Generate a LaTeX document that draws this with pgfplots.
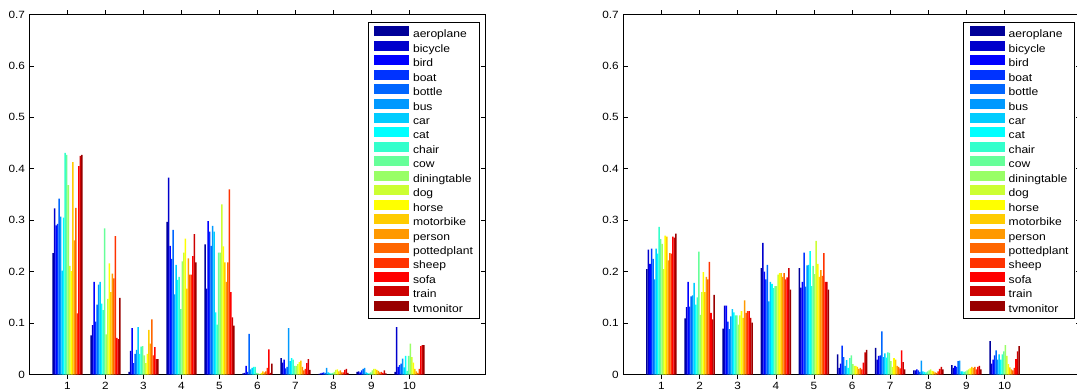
\documentclass[border=0pt]{standalone}
\usepackage{pgfplots}
\pgfplotsset{compat=1.18}
\usepackage{pgfplotstable}
\usepackage{fontspec}
\setmainfont{Liberation Sans}[FakeStretch=1.12]

\definecolor{j1}{rgb}{0,0,0.6}
\definecolor{j2}{rgb}{0,0,0.8}
\definecolor{j3}{rgb}{0,0,1}
\definecolor{j4}{rgb}{0,0.2,1}
\definecolor{j5}{rgb}{0,0.4,1}
\definecolor{j6}{rgb}{0,0.6,1}
\definecolor{j7}{rgb}{0,0.8,1}
\definecolor{j8}{rgb}{0,1,1}
\definecolor{j9}{rgb}{0.2,1,0.8}
\definecolor{j10}{rgb}{0.4,1,0.6}
\definecolor{j11}{rgb}{0.6,1,0.4}
\definecolor{j12}{rgb}{0.8,1,0.2}
\definecolor{j13}{rgb}{1,1,0}
\definecolor{j14}{rgb}{1,0.8,0}
\definecolor{j15}{rgb}{1,0.6,0}
\definecolor{j16}{rgb}{1,0.4,0}
\definecolor{j17}{rgb}{1,0.2,0}
\definecolor{j18}{rgb}{1,0,0}
\definecolor{j19}{rgb}{0.8,0,0}
\definecolor{j20}{rgb}{0.6,0,0}

\pgfplotstableread{
g c1 c2 c3 c4 c5 c6 c7 c8 c9 c10 c11 c12 c13 c14 c15 c16 c17 c18 c19 c20
1 0.236 0.323 0.290 0.293 0.342 0.307 0.202 0.305 0.431 0.427 0.368 0.211 0.201 0.413 0.261 0.324 0.119 0.405 0.425 0.427
2 0.076 0.096 0.180 0.103 0.136 0.175 0.180 0.138 0.125 0.284 0.078 0.147 0.216 0.160 0.196 0.187 0.269 0.071 0.069 0.149
3 0.005 0.046 0.090 0.022 0.040 0.048 0.092 0.040 0.054 0.055 0.037 0.022 0.040 0.087 0.060 0.107 0.037 0.053 0.030 0.030
4 0.297 0.383 0.250 0.225 0.281 0.156 0.213 0.184 0.190 0.127 0.220 0.237 0.264 0.167 0.226 0.194 0.194 0.230 0.273 0.218
5 0.253 0.167 0.298 0.278 0.250 0.289 0.278 0.121 0.097 0.237 0.237 0.331 0.249 0.218 0.180 0.218 0.360 0.160 0.111 0.095
6 0.002 0.003 0.017 0.005 0.079 0.010 0.013 0.015 0.015 0.003 0.002 0.001 0.003 0.006 0.004 0.006 0.013 0.049 0.003 0.021
7 0.032 0.023 0.029 0.012 0.015 0.090 0.026 0.032 0.029 0.017 0.017 0.020 0.024 0.027 0.015 0.008 0.011 0.022 0.030 0.009
8 0.001 0.002 0.003 0.004 0.003 0.013 0.004 0.003 0.002 0.003 0.005 0.009 0.010 0.006 0.008 0.004 0.004 0.009 0.011 0.003
9 0.005 0.006 0.004 0.008 0.011 0.013 0.004 0.003 0.002 0.004 0.008 0.011 0.011 0.009 0.007 0.004 0.005 0.003 0.008 0.002
10 0.005 0.092 0.015 0.018 0.021 0.031 0.014 0.036 0.007 0.036 0.060 0.034 0.023 0.011 0.006 0.003 0.011 0.055 0.057 0.057
}\lefttab

\pgfplotstableread{
g c1 c2 c3 c4 c5 c6 c7 c8 c9 c10 c11 c12 c13 c14 c15 c16 c17 c18 c19 c20
1 0.205 0.243 0.215 0.245 0.225 0.185 0.245 0.235 0.287 0.263 0.254 0.205 0.270 0.268 0.222 0.236 0.235 0.268 0.266 0.274
2 0.109 0.131 0.180 0.132 0.152 0.154 0.178 0.136 0.150 0.239 0.116 0.160 0.199 0.160 0.190 0.185 0.219 0.120 0.107 0.155
3 0.089 0.134 0.134 0.103 0.088 0.113 0.127 0.121 0.115 0.115 0.097 0.115 0.123 0.110 0.144 0.120 0.123 0.123 0.110 0.101
4 0.207 0.256 0.200 0.185 0.213 0.142 0.180 0.176 0.168 0.172 0.172 0.194 0.197 0.197 0.190 0.197 0.185 0.189 0.207 0.165
5 0.207 0.169 0.180 0.237 0.171 0.212 0.213 0.240 0.172 0.211 0.195 0.260 0.215 0.190 0.203 0.192 0.236 0.180 0.180 0.165
6 0.039 0.013 0.021 0.056 0.034 0.017 0.028 0.013 0.032 0.037 0.020 0.017 0.017 0.015 0.011 0.013 0.010 0.023 0.043 0.048
7 0.052 0.029 0.036 0.037 0.084 0.034 0.041 0.033 0.043 0.042 0.026 0.015 0.032 0.029 0.017 0.015 0.012 0.047 0.024 0.010
8 0.008 0.008 0.010 0.008 0.005 0.027 0.006 0.005 0.004 0.006 0.008 0.010 0.007 0.006 0.004 0.003 0.006 0.011 0.015 0.010
9 0.018 0.013 0.017 0.015 0.026 0.027 0.006 0.006 0.005 0.006 0.008 0.010 0.012 0.015 0.013 0.015 0.010 0.015 0.017 0.010
10 0.065 0.021 0.029 0.037 0.047 0.029 0.039 0.029 0.039 0.045 0.057 0.036 0.020 0.014 0.010 0.008 0.013 0.030 0.045 0.055
}\righttab

\pgfplotsset{
  myleg/.style={draw=none, legend image code/.code={\fill[##1] (0pt,-1.3pt) rectangle (35pt,8.7pt);}},
  myaxis/.style={
    anchor=south west,
    height=360pt, scale only axis,
    xmin=0, xmax=12, ymin=0, ymax=0.7,
    xtick={1,2,3,4,5,6,7,8,9,10},
    ytick={0,0.1,0.2,0.3,0.4,0.5,0.6,0.7},
    yticklabels={0,0.1,0.2,0.3,0.4,0.5,0.6,0.7},
    tick align=inside, major tick length=4.5pt,
    tick style={black, line width=0.6pt},
    axis line style={line width=0.9pt},
    ticklabel style={font=\fontsize{10.5}{12}\selectfont},
    xticklabel style={inner ysep=0pt, yshift=-2.7pt},
    yticklabel style={xshift=-1pt},
    /pgf/number format/assume math mode=true,
    ybar, bar width=0.04,
    legend cell align=left,
    legend style={at={(1,1)}, anchor=north east, yshift=-7.2pt,
      inner xsep=6pt, inner ysep=4.2pt, row sep=1.0pt, column sep=4pt,
      font=\fontsize{10.8}{12}\selectfont, line width=0.8pt,
      nodes={inner sep=0pt, text height=7.5pt, text depth=2pt}},
  }
}

\newcommand{\bars}[1]{%
\addplot[fill=j1,bar shift=-0.38,myleg] table[x=g,y=c1]{#1};
\addplot[fill=j2,bar shift=-0.34,myleg] table[x=g,y=c2]{#1};
\addplot[fill=j3,bar shift=-0.30,myleg] table[x=g,y=c3]{#1};
\addplot[fill=j4,bar shift=-0.26,myleg] table[x=g,y=c4]{#1};
\addplot[fill=j5,bar shift=-0.22,myleg] table[x=g,y=c5]{#1};
\addplot[fill=j6,bar shift=-0.18,myleg] table[x=g,y=c6]{#1};
\addplot[fill=j7,bar shift=-0.14,myleg] table[x=g,y=c7]{#1};
\addplot[fill=j8,bar shift=-0.10,myleg] table[x=g,y=c8]{#1};
\addplot[fill=j9,bar shift=-0.06,myleg] table[x=g,y=c9]{#1};
\addplot[fill=j10,bar shift=-0.02,myleg] table[x=g,y=c10]{#1};
\addplot[fill=j11,bar shift=0.02,myleg] table[x=g,y=c11]{#1};
\addplot[fill=j12,bar shift=0.06,myleg] table[x=g,y=c12]{#1};
\addplot[fill=j13,bar shift=0.10,myleg] table[x=g,y=c13]{#1};
\addplot[fill=j14,bar shift=0.14,myleg] table[x=g,y=c14]{#1};
\addplot[fill=j15,bar shift=0.18,myleg] table[x=g,y=c15]{#1};
\addplot[fill=j16,bar shift=0.22,myleg] table[x=g,y=c16]{#1};
\addplot[fill=j17,bar shift=0.26,myleg] table[x=g,y=c17]{#1};
\addplot[fill=j18,bar shift=0.30,myleg] table[x=g,y=c18]{#1};
\addplot[fill=j19,bar shift=0.34,myleg] table[x=g,y=c19]{#1};
\addplot[fill=j20,bar shift=0.38,myleg] table[x=g,y=c20]{#1};
\legend{aeroplane,bicycle,bird,boat,bottle,bus,car,cat,chair,cow,diningtable,dog,horse,motorbike,person,pottedplant,sheep,sofa,train,tvmonitor}
}

\begin{document}
\begin{tikzpicture}
\begin{axis}[myaxis, at={(29.5pt,14.5pt)}, width=456pt, legend style={xshift=-6.2pt}]
\bars{\lefttab}
\end{axis}
\begin{axis}[myaxis, at={(623.3pt,14.5pt)}, width=457.5pt, legend style={xshift=-5.8pt}]
\bars{\righttab}
\end{axis}
\pgfresetboundingbox
\path (0pt,0pt) rectangle (1077pt,389pt);
\end{tikzpicture}
\end{document}
